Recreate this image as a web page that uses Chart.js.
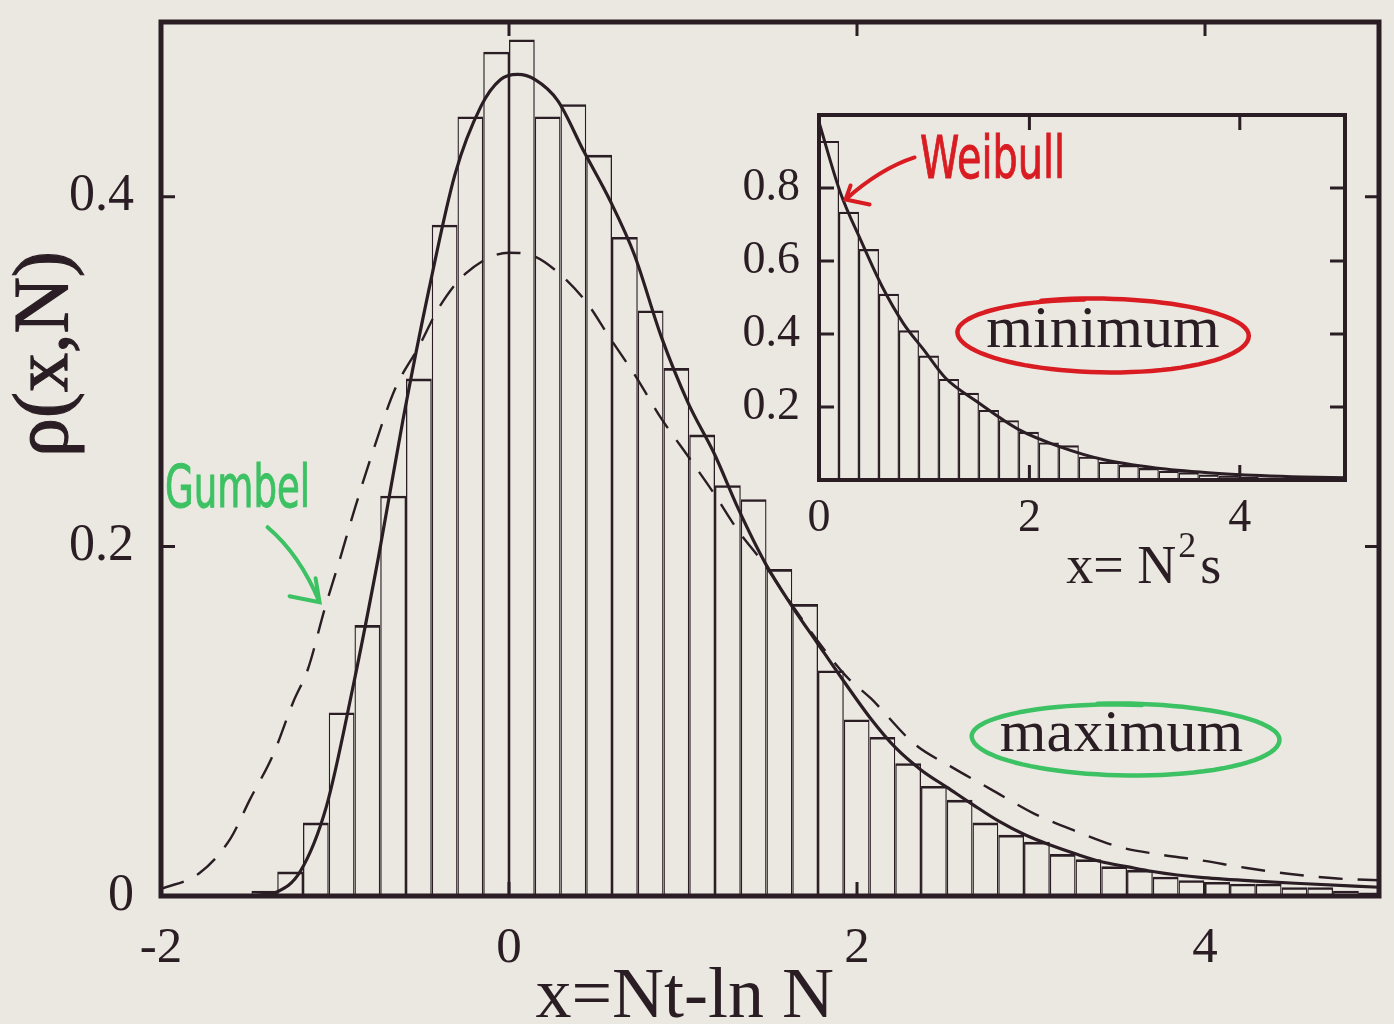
<!DOCTYPE html>
<html>
<head>
<meta charset="utf-8">
<script src="https://cdn.jsdelivr.net/npm/chart.js@4.4.1/dist/chart.umd.min.js"></script>
<style>
  html, body { margin: 0; padding: 0; background: #ebe8e2; }
  #wrap { position: relative; width: 1394px; height: 1024px; overflow: hidden; }
  #mainChart { position: absolute; left: 0; top: 0; }
  #insetChart { position: absolute; left: 720px; top: 100px; }
</style>
</head>
<body>
<div id="wrap">
  <canvas id="mainChart" width="1394" height="1024"></canvas>
  <canvas id="insetChart" width="650" height="500"></canvas>
</div>
<script>
// ---- main panel: distribution of the maximum, x = Nt - ln N ----
var binWidth = 0.148;
var firstBin = -1.48;
var maxHist = [
  0.003, 0.014, 0.042, 0.105, 0.155, 0.229, 0.296, 0.384, 0.446, 0.483,
  0.490, 0.446, 0.453, 0.424, 0.377, 0.335, 0.302, 0.264, 0.235, 0.227,
  0.187, 0.167, 0.129, 0.101, 0.091, 0.076, 0.063, 0.055, 0.042, 0.035,
  0.031, 0.024, 0.021, 0.017, 0.015, 0.011, 0.009, 0.008, 0.007, 0.007,
  0.005, 0.005, 0.003, 0.002
];
// finite-N curve (solid)
var exactX = [-1.50, -1.40, -1.34, -1.20, -1.05, -0.90, -0.75, -0.61, -0.46, -0.31,
  -0.16, -0.05, 0.05, 0.15, 0.28, 0.43, 0.58, 0.72, 0.875, 1.03, 1.18, 1.32, 1.475,
  1.625, 1.77, 1.93, 2.075, 2.22, 2.37, 2.52, 2.67, 2.82, 2.965, 3.115, 3.26, 3.405,
  3.55, 3.70, 3.84, 3.99, 4.29, 4.58, 5.0];
var exactY = [0.0, 0.001, 0.002, 0.014, 0.051, 0.118, 0.194, 0.272, 0.347, 0.413,
  0.452, 0.467, 0.470, 0.467, 0.455, 0.426, 0.398, 0.367, 0.320, 0.282, 0.253, 0.221, 0.190,
  0.166, 0.145, 0.122, 0.102, 0.085, 0.072, 0.062, 0.052, 0.0425, 0.035, 0.029, 0.024, 0.0196,
  0.0168, 0.014, 0.012, 0.0105, 0.0085, 0.007, 0.005];
// Gumbel limit (dashed)
var gumbelX = [-2.0, -1.78, -1.60, -1.49, -1.355, -1.24, -1.155, -1.06, -0.98, -0.885,
  -0.79, -0.655, -0.52, -0.40, -0.25, 0.0, 0.145, 0.29, 0.45, 0.575, 0.73, 0.87, 1.04,
  1.18, 1.31, 1.465, 1.61, 1.77, 1.94, 2.08, 2.33, 2.54, 2.77, 3.02, 3.26, 3.51, 3.72,
  3.97, 4.24, 4.49, 4.76, 5.0];
var gumbelY = [0.004, 0.013, 0.033, 0.055, 0.081, 0.111, 0.130, 0.164, 0.190, 0.222,
  0.252, 0.290, 0.314, 0.337, 0.356, 0.368, 0.366, 0.356, 0.339, 0.320, 0.297, 0.274, 0.250,
  0.230, 0.210, 0.190, 0.169, 0.1465, 0.1255, 0.113, 0.087, 0.074, 0.061, 0.047, 0.037, 0.028, 0.024,
  0.0205, 0.016, 0.0126, 0.010, 0.009];
var xTicks = [-2, 0, 2, 4];
var yTicks = [0, 0.2, 0.4];

// ---- inset: distribution of the minimum, x = N^2 s ----
var insetBinWidth = 0.19;
var minHist = [
  0.929, 0.735, 0.633, 0.510, 0.410, 0.341, 0.277, 0.239, 0.192, 0.164,
  0.132, 0.103, 0.095, 0.064, 0.050, 0.041, 0.033, 0.025, 0.021, 0.015,
  0.012, 0.009, 0.007, 0.005, 0.004, 0.003, 0.002
];
var weibullX = [0, 0.2, 0.4, 0.6, 0.8, 1.0, 1.2, 1.5, 1.9, 2.3, 2.7, 3.2, 3.7, 4.2, 4.6, 5.0];
var weibullY = [0.98, 0.79, 0.655, 0.53, 0.43, 0.355, 0.28, 0.215, 0.138, 0.09, 0.056, 0.033, 0.02, 0.012, 0.008, 0.006];
var insetXTicks = [0, 2, 4];
var insetYTicks = [0.2, 0.4, 0.6, 0.8];

var ink = '#2a1e24';
var serif = "'Liberation Serif', 'DejaVu Serif', serif";
var green = '#3cc163';
var red = '#d81c22';

function toPoints(xs, ys) {
  return xs.map(function (x, i) { return { x: x, y: ys[i] }; });
}
function histPoints(start, width, hs) {
  return hs.map(function (h, i) { return { x: start + (i + 0.5) * width, y: h }; });
}
function fmt(v) { return v === 0 ? '0' : String(v.toFixed(1)); }

// frame with inward ticks on all four sides
function framePlugin(lineW, tickLen, tickW) {
  return {
    id: 'frame',
    afterDatasetsDraw: function (chart) {
      var a = chart.chartArea, ctx = chart.ctx, xs = chart.scales.x, ys = chart.scales.y;
      ctx.save();
      ctx.strokeStyle = ink;
      ctx.lineWidth = tickW;
      ctx.beginPath();
      xs.ticks.forEach(function (t) {
        var p = xs.getPixelForValue(t.value);
        ctx.moveTo(p, a.bottom); ctx.lineTo(p, a.bottom - tickLen);
        ctx.moveTo(p, a.top); ctx.lineTo(p, a.top + tickLen);
      });
      ys.ticks.forEach(function (t) {
        var p = ys.getPixelForValue(t.value);
        ctx.moveTo(a.left, p); ctx.lineTo(a.left + tickLen, p);
        ctx.moveTo(a.right, p); ctx.lineTo(a.right - tickLen, p);
      });
      ctx.stroke();
      ctx.lineWidth = lineW;
      ctx.strokeRect(a.left, a.top, a.right - a.left, a.bottom - a.top);
      ctx.restore();
    }
  };
}

// marker-pen lettering, squeezed to a given width
function handText(ctx, str, cx, cy, w, size, color) {
  ctx.save();
  ctx.font = size + "px 'DejaVu Sans'";
  var m = ctx.measureText(str).width;
  ctx.translate(cx, cy);
  ctx.scale(w / m, 1);
  ctx.fillStyle = color;
  ctx.strokeStyle = color;
  ctx.lineWidth = 1;
  ctx.textAlign = 'center';
  ctx.textBaseline = 'middle';
  ctx.fillText(str, 0, 0);
  ctx.strokeText(str, 0, 0);
  ctx.restore();
}

// loose hand-drawn loop round a word
function handLoop(ctx, cx, cy, rx, ry, color, start) {
  ctx.save();
  ctx.beginPath();
  var n = 90;
  for (var i = 0; i <= n; i++) {
    var t = start + i / n * (2 * Math.PI + 0.3);
    var k = 1 + 0.035 * Math.sin(2 * t + 0.6) - 0.03 * (i / n);
    var x = cx + rx * k * Math.cos(t);
    var y = cy + ry * k * Math.sin(t) * (Math.sin(t) < 0 ? 0.95 : 1.05);
    if (i === 0) ctx.moveTo(x, y); else ctx.lineTo(x, y);
  }
  ctx.strokeStyle = color;
  ctx.lineWidth = 4.5;
  ctx.lineCap = 'round';
  ctx.lineJoin = 'round';
  ctx.stroke();
  ctx.restore();
}

function arrow(ctx, x0, y0, cxp, cyp, x1, y1, h1, h2, color) {
  ctx.save();
  ctx.strokeStyle = color;
  ctx.lineWidth = 4;
  ctx.lineCap = 'round';
  ctx.beginPath();
  ctx.moveTo(x0, y0);
  ctx.quadraticCurveTo(cxp, cyp, x1, y1);
  ctx.moveTo(x1 + h1[0], y1 + h1[1]);
  ctx.lineTo(x1, y1);
  ctx.lineTo(x1 + h2[0], y1 + h2[1]);
  ctx.stroke();
  ctx.restore();
}

var mainLabels = {
  id: 'mainLabels',
  afterDraw: function (chart) {
    var ctx = chart.ctx, xs = chart.scales.x, ys = chart.scales.y;
    ctx.save();
    ctx.fillStyle = ink;
    ctx.strokeStyle = ink;
    // axis titles
    ctx.font = '78px ' + serif;
    ctx.textAlign = 'center';
    ctx.textBaseline = 'middle';
    ctx.translate(47, ys.getPixelForValue(0.31));
    ctx.rotate(-Math.PI / 2);
    ctx.lineWidth = 1.2;
    ctx.fillText('\u03c1(x,N)', 0, 0);
    ctx.strokeText('\u03c1(x,N)', 0, 0);
    ctx.setTransform(1, 0, 0, 1, 0, 0);
    ctx.font = '72px ' + serif;
    ctx.textBaseline = 'alphabetic';
    ctx.fillText('x=Nt-ln N', xs.getPixelForValue(1.01), 1017);
    // "maximum" label
    var mx = xs.getPixelForValue(3.52), my = ys.getPixelForValue(0.091);
    ctx.font = '60px ' + serif;
    ctx.fillText('maximum', mx, my + 14);
    ctx.restore();
    handLoop(ctx, mx + 3, my + 1, 153, 37, green, -1.75);
    // Gumbel note
    var gx = xs.getPixelForValue(-1.56), gy = ys.getPixelForValue(0.231);
    handText(ctx, 'Gumbel', gx, gy, 145, 58, green);
    arrow(ctx, gx + 30, gy + 35, gx + 62, gy + 62, gx + 82, gy + 110, [-30, -6], [-4, -24], green);
  }
};

var insetLabels = {
  id: 'insetLabels',
  afterDraw: function (chart) {
    var ctx = chart.ctx, xs = chart.scales.x, ys = chart.scales.y, a = chart.chartArea;
    ctx.save();
    ctx.fillStyle = ink;
    // axis title x = N^2 s
    var base = a.bottom + 103;
    var tx = xs.getPixelForValue(2.35);
    ctx.font = '54px ' + serif;
    ctx.textBaseline = 'alphabetic';
    ctx.textAlign = 'left';
    ctx.fillText('x= N', tx, base);
    var w1 = ctx.measureText('x= N').width;
    ctx.font = '36px ' + serif;
    ctx.fillText('2', tx + w1 + 2, base - 26);
    var w2 = ctx.measureText('2').width;
    ctx.font = '54px ' + serif;
    ctx.fillText('s', tx + w1 + w2 + 6, base);
    // "minimum" label
    var mx = xs.getPixelForValue(2.70), my = ys.getPixelForValue(0.403);
    ctx.font = '60px ' + serif;
    ctx.textAlign = 'center';
    ctx.fillText('minimum', mx, my + 14);
    ctx.restore();
    handLoop(ctx, mx - 1, my + 1, 145, 38, red, -2.0);
    // Weibull note
    var wx = xs.getPixelForValue(1.65), wy = ys.getPixelForValue(0.87);
    handText(ctx, 'Weibull', wx, wy, 145, 58, red);
    arrow(ctx, wx - 78, wy - 5, wx - 112, wy + 6, wx - 147, wy + 37, [5, -14], [24, 5], red);
  }
};

// keep the plot area exactly where the layout puts it (no room left for label overhang)
function noOverhang(s) {
  s.paddingTop = 0; s.paddingBottom = 0; s.paddingLeft = 0; s.paddingRight = 0;
}

function axisX(min, max, ticks, pad, size, height) {
  return {
    type: 'linear', min: min, max: max, offset: false,
    grid: { display: false, drawTicks: false },
    border: { display: false },
    afterBuildTicks: function (s) { s.ticks = ticks.map(function (v) { return { value: v }; }); },
    afterFit: function (s) { s.height = height; noOverhang(s); },
    ticks: { padding: pad, maxRotation: 0, autoSkip: false, color: ink,
      font: { family: serif, size: size }, callback: function (v) { return String(v); } }
  };
}
function axisY(min, max, ticks, pad, size, width) {
  return {
    type: 'linear', min: min, max: max,
    grid: { display: false, drawTicks: false },
    border: { display: false },
    afterBuildTicks: function (s) { s.ticks = ticks.map(function (v) { return { value: v }; }); },
    afterFit: function (s) { s.width = width; noOverhang(s); },
    ticks: { padding: pad, color: ink, font: { family: serif, size: size }, callback: fmt }
  };
}

new Chart(document.getElementById('mainChart'), {
  type: 'bar',
  data: {
    datasets: [
      { type: 'line', data: toPoints(exactX, exactY), borderColor: ink, borderWidth: 3.2,
        pointRadius: 0, cubicInterpolationMode: 'monotone', order: 1 },
      { type: 'line', data: toPoints(gumbelX, gumbelY), borderColor: ink, borderWidth: 2.4,
        borderDash: [24, 15], pointRadius: 0, cubicInterpolationMode: 'monotone', order: 2 },
      { data: histPoints(firstBin, binWidth, maxHist), backgroundColor: 'rgba(0,0,0,0)',
        borderColor: ink, borderWidth: { top: 2.6, left: 1.3, right: 1.3, bottom: 0 },
        borderSkipped: false, inflateAmount: 0, barPercentage: 1, categoryPercentage: 1, order: 3 }
    ]
  },
  options: {
    responsive: false, animation: false, devicePixelRatio: 1,
    layout: { padding: { top: 22, right: 15, left: 0, bottom: 0 } },
    plugins: { legend: { display: false }, tooltip: { enabled: false } },
    scales: {
      x: axisX(-2, 5, xTicks, 22, 51, 128),
      y: axisY(0, 0.5, yTicks, 27, 52, 161)
    }
  },
  plugins: [framePlugin(5, 14, 3), mainLabels]
});

new Chart(document.getElementById('insetChart'), {
  type: 'bar',
  data: {
    datasets: [
      { type: 'line', data: toPoints(weibullX, weibullY), borderColor: ink, borderWidth: 3,
        pointRadius: 0, cubicInterpolationMode: 'monotone', order: 1 },
      { data: histPoints(0, insetBinWidth, minHist), backgroundColor: 'rgba(0,0,0,0)',
        borderColor: ink, borderWidth: { top: 2.2, left: 1.2, right: 1.2, bottom: 0 },
        borderSkipped: false, inflateAmount: 0, barPercentage: 1, categoryPercentage: 1, order: 2 }
    ]
  },
  options: {
    responsive: false, animation: false, devicePixelRatio: 1,
    layout: { padding: { top: 15, right: 25, left: 0, bottom: 0 } },
    plugins: { legend: { display: false }, tooltip: { enabled: false } },
    scales: {
      x: axisX(0, 5, insetXTicks, 11, 46, 120),
      y: axisY(0, 1, insetYTicks, 19, 46, 99)
    }
  },
  plugins: [framePlugin(4, 15, 3), insetLabels]
});
</script>
</body>
</html>
